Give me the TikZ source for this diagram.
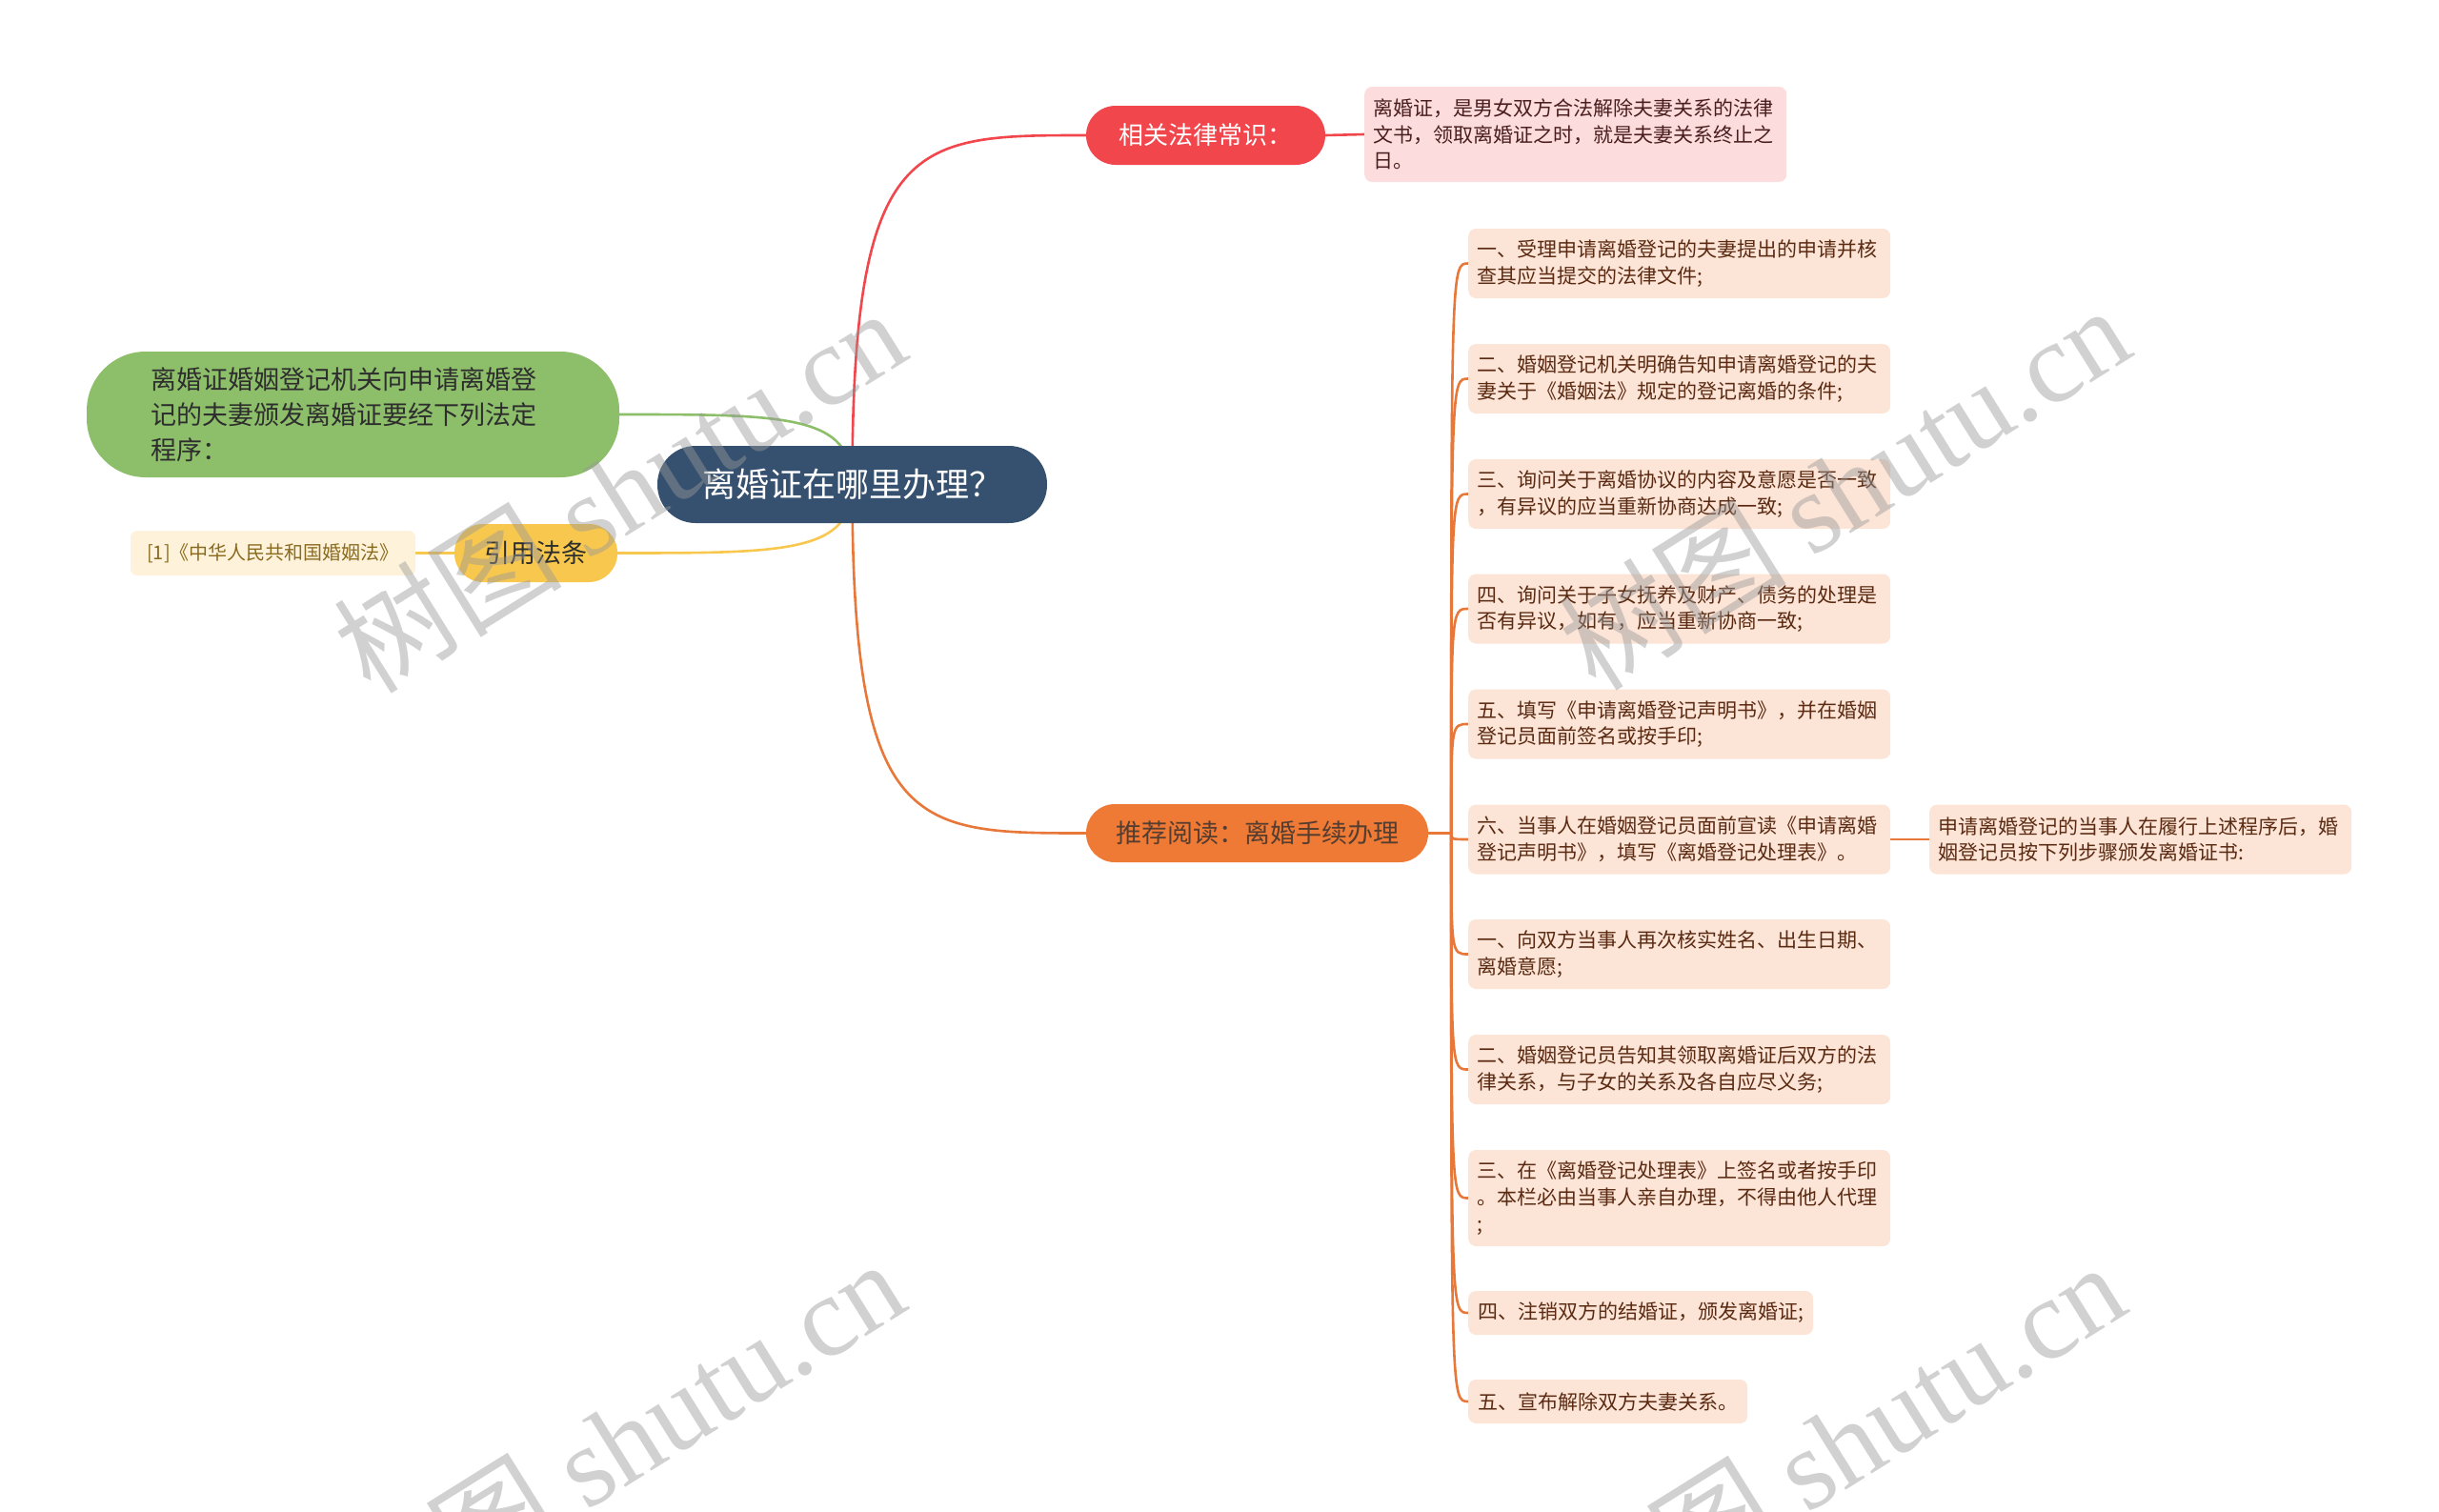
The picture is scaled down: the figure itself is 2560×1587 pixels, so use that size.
\documentclass[tikz,border=0pt]{standalone}
\usepackage{fontspec}
\setmainfont{Noto Sans CJK SC}
\newfontfamily\wmserif{Liberation Serif}
\usetikzlibrary{calc,backgrounds}
\definecolor{cbg}{HTML}{36516F}
\definecolor{cred}{HTML}{F0464C}
\definecolor{credleaf}{HTML}{FCDCDD}
\definecolor{cgreen}{HTML}{8DBE6A}
\definecolor{cyel}{HTML}{F8C84E}
\definecolor{cyelleaf}{HTML}{FEF3DA}
\definecolor{cyeltx}{HTML}{8A6A1E}
\definecolor{corg}{HTML}{EF7A35}
\definecolor{corgline}{HTML}{E8773A}
\definecolor{corgleaf}{HTML}{FCE4D6}
\definecolor{corgtx}{HTML}{5A2A12}
\definecolor{credtx}{HTML}{4A1E1E}
\definecolor{cdark}{HTML}{2E2E2E}
\begin{document}
\begin{tikzpicture}[x=1pt,y=-1pt,
  stadium/.style={inner sep=0pt, align=center},
  leaf/.style={anchor=west, fill=corgleaf, rounded corners=8pt, inner xsep=9pt, inner ysep=0pt,
    font=\fontsize{21pt}{27.7pt}\selectfont, text=corgtx, align=left},
  wideleaf/.style={leaf, text width=425pt},
  conn/.style={line width=2.6pt, line cap=round},
  oconn/.style={conn, draw=corgline},
  wm/.style={rotate=32, text=black!40, text opacity=0.45, font=\fontsize{120pt}{130pt}\selectfont, inner sep=0pt}
]
\useasboundingbox (0,0) rectangle (2560,1587);

% central node
\node[stadium, fill=cbg, rounded corners=40pt, minimum width=409pt, minimum height=81pt,
  text=white, font=\fontsize{35pt}{40pt}\selectfont] (c) at (894.5,508.5) {离婚证在哪里办理？};

% red branch
\node[stadium, fill=cred, rounded corners=31pt, minimum width=251pt, minimum height=62pt,
  text=white, font=\fontsize{26pt}{30pt}\selectfont] (r) at (1265.5,142) {相关法律常识：};
\node[wideleaf, fill=credleaf, text=credtx, minimum height=100pt] (rl) at (1432,141)
  {离婚证，是男女双方合法解除夫妻关系的法律\\文书，领取离婚证之时，就是夫妻关系终止之\\日。};

% green branch
\node[fill=cgreen, rounded corners=62pt, minimum height=132pt, inner xsep=67pt, inner ysep=0pt,
  text width=425pt, align=left, text=cdark, font=\fontsize{27pt}{36.7pt}\selectfont] (g) at (370.5,435)
  {离婚证婚姻登记机关向申请离婚登\\记的夫妻颁发离婚证要经下列法定\\程序：};

% yellow branch
\node[stadium, fill=cyel, rounded corners=30pt, minimum width=171pt, minimum height=61pt,
  text=cdark, font=\fontsize{27pt}{30pt}\selectfont] (y) at (562.5,580.5) {引用法条};
\node[fill=cyelleaf, rounded corners=7pt, minimum width=299pt, minimum height=47pt, inner sep=0pt,
  text=cyeltx, font=\fontsize{20pt}{24pt}\selectfont] (yl) at (286.5,580.5) {[1]《中华人民共和国婚姻法》};

% orange branch
\node[stadium, fill=corg, rounded corners=30pt, minimum width=359pt, minimum height=61pt,
  text=cdark!80!corg, font=\fontsize{27pt}{30pt}\selectfont] (o) at (1319.5,874.5) {推荐阅读：离婚手续办理};

\node[wideleaf, minimum height=73pt] (l1) at (1541,276.5) {一、受理申请离婚登记的夫妻提出的申请并核\\查其应当提交的法律文件;};
\node[wideleaf, minimum height=73pt] (l2) at (1541,397.5) {二、婚姻登记机关明确告知申请离婚登记的夫\\妻关于《婚姻法》规定的登记离婚的条件;};
\node[wideleaf, minimum height=73pt] (l3) at (1541,518.5) {三、询问关于离婚协议的内容及意愿是否一致\\，有异议的应当重新协商达成一致;};
\node[wideleaf, minimum height=73pt] (l4) at (1541,639) {四、询问关于子女抚养及财产、债务的处理是\\否有异议，如有，应当重新协商一致;};
\node[wideleaf, minimum height=73pt] (l5) at (1541,760) {五、填写《申请离婚登记声明书》，并在婚姻\\登记员面前签名或按手印;};
\node[wideleaf, minimum height=73pt] (l6) at (1541,881) {六、当事人在婚姻登记员面前宣读《申请离婚\\登记声明书》，填写《离婚登记处理表》。};
\node[wideleaf, minimum height=73pt] (l7) at (1541,1001.5) {一、向双方当事人再次核实姓名、出生日期、\\离婚意愿;};
\node[wideleaf, minimum height=73pt] (l8) at (1541,1122.5) {二、婚姻登记员告知其领取离婚证后双方的法\\律关系，与子女的关系及各自应尽义务;};
\node[wideleaf, minimum height=101pt] (l9) at (1541,1257.5) {三、在《离婚登记处理表》上签名或者按手印\\。本栏必由当事人亲自办理，不得由他人代理\\;};
\node[leaf, minimum height=46pt, inner xsep=10pt] (l10) at (1541,1378) {四、注销双方的结婚证，颁发离婚证;};
\node[leaf, minimum height=46pt, inner xsep=10pt] (l11) at (1541,1471) {五、宣布解除双方夫妻关系。};

\node[wideleaf, minimum height=73pt] (s) at (2025,881) {申请离婚登记的当事人在履行上述程序后，婚\\姻登记员按下列步骤颁发离婚证书:};

\coordinate (oj) at ($(o.east)+(24,0)$);

\begin{scope}[on background layer]
  \draw[conn, cred] (c.center) .. controls (c.center |- r.west) and ($(c.center |- r.west)+(65,0)$) .. (r.west);
  \draw[conn, corgline] (c.center) .. controls (c.center |- o.west) and ($(c.center |- o.west)+(65,0)$) .. (o.west);
  \draw[conn, cgreen] (c.center) .. controls (c.center |- g.east) and ($(c.center |- g.east)+(-70,0)$) .. (g.east);
  \draw[conn, cyel] (c.center) .. controls (c.center |- y.east) and ($(c.center |- y.east)+(-70,0)$) .. (y.east);
  \draw[conn, cred] (r.east) -- (rl.west);
  \draw[conn, cyel] (y.west) -- (yl.east);
  \draw[oconn] (o.east) -- (oj);
  \foreach \n in {l1,l2,l3,l4,l5,l6,l7,l8,l9,l10,l11}{
    \draw[oconn] (oj) .. controls (oj |- \n.west) .. (\n.west);
  }
  \draw[oconn] (l6.east) -- (s.west);
\end{scope}

% watermarks
\node[wm] (w1) at (650,514) {树图 {\wmserif shutu.cn}};
\node[wm] (w2) at (1935,511) {树图 {\wmserif shutu.cn}};
\node[wm] (w3) at (649,1512) {树图 {\wmserif shutu.cn}};
\node[wm] (w4) at (1930,1515) {树图 {\wmserif shutu.cn}};
\end{tikzpicture}
\end{document}
